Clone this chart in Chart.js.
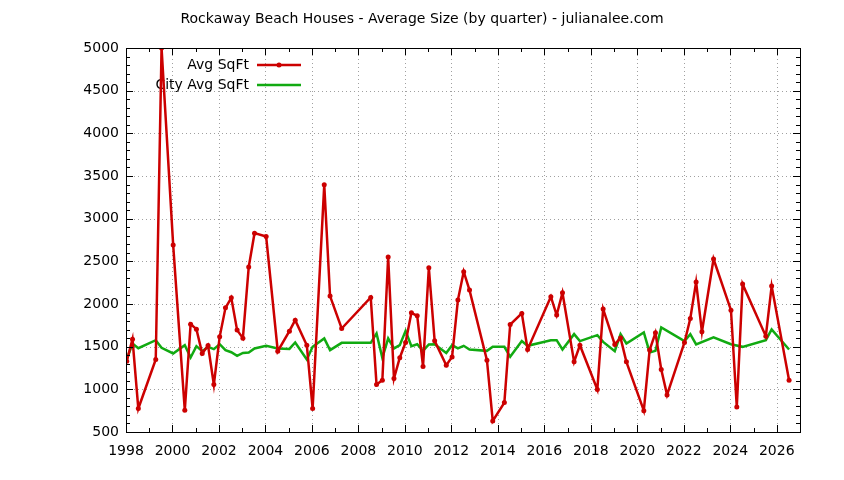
<!DOCTYPE html>
<html>
<head>
<meta charset="utf-8">
<script src="https://cdn.jsdelivr.net/npm/chart.js@4/dist/chart.umd.min.js"></script>
<style>
  html, body { margin: 0; padding: 0; background: #fff; }
</style>
</head>
<body>
<canvas id="chart" width="844" height="480"></canvas>
<script>
// Rockaway Beach quarterly average size (decimal year of each quarter)
const areaYears = [
  1998.03, 1998.28, 1998.53, 1999.28, 1999.53, 2000.03, 2000.53, 2000.78,
  2001.03, 2001.28, 2001.53, 2001.78, 2002.03, 2002.28, 2002.53, 2002.78,
  2003.03, 2003.28, 2003.53, 2004.03, 2004.53, 2005.03, 2005.28, 2005.78,
  2006.03, 2006.53, 2006.78, 2007.28, 2008.53, 2008.78, 2009.03, 2009.28,
  2009.53, 2009.78, 2010.03, 2010.28, 2010.53, 2010.78, 2011.03, 2011.28,
  2011.78, 2012.03, 2012.28, 2012.53, 2012.78, 2013.53, 2013.78, 2014.28,
  2014.53, 2015.03, 2015.28, 2016.28, 2016.53, 2016.78, 2017.28, 2017.53,
  2018.28, 2018.53, 2019.03, 2019.28, 2019.53, 2020.28, 2020.53, 2020.78,
  2021.03, 2021.28, 2022.03, 2022.28, 2022.53, 2022.78, 2023.28, 2024.03,
  2024.28, 2024.53, 2025.53, 2025.78, 2026.53
];
const areaSqft = [
  1330, 1588, 775, 1350, 5000, 2690, 755, 1764,
  1705, 1420, 1514, 1056, 1615, 1955, 2073, 1694,
  1600, 2433, 2830, 2790, 1447, 1682, 1811, 1517,
  775, 3396, 2093, 1713, 2077, 1056, 1107, 2550,
  1127, 1370, 1550, 1897, 1862, 1268, 2425, 1568,
  1283, 1380, 2046, 2378, 2163, 1341, 629, 845,
  1760, 1890, 1467, 2085, 1870, 2131, 1322, 1517,
  998, 1940, 1526, 1603, 1322, 750, 1460, 1662,
  1232, 935, 1549, 1831, 2257, 1674, 2527, 1928,
  793, 2233, 1623, 2210, 1107
];

// city-wide quarterly average
const cityYears = [
  1998.03, 1998.28, 1998.53, 1999.28, 1999.53, 2000.03, 2000.53, 2000.78,
  2001.03, 2001.28, 2001.53, 2001.78, 2002.03, 2002.28, 2002.53, 2002.78,
  2003.03, 2003.28, 2003.53, 2004.03, 2004.53, 2005.03, 2005.28, 2005.78,
  2006.03, 2006.53, 2006.78, 2007.28, 2008.53, 2008.78, 2009.03, 2009.28,
  2009.53, 2009.78, 2010.03, 2010.28, 2010.53, 2010.78, 2011.03, 2011.28,
  2011.78, 2012.03, 2012.28, 2012.53, 2012.78, 2013.53, 2013.78, 2014.28,
  2014.53, 2015.03, 2015.28, 2016.28, 2016.53, 2016.78, 2017.28, 2017.53,
  2018.28, 2018.53, 2019.03, 2019.28, 2019.53, 2020.28, 2020.53, 2020.78,
  2021.03, 2022.03, 2022.28, 2022.53, 2023.28, 2024.03, 2024.53, 2025.53,
  2025.78, 2026.53
];
const citySqft = [
  1350, 1537, 1482, 1576, 1486, 1420, 1518, 1373,
  1506, 1447, 1498, 1471, 1529, 1459, 1435, 1392,
  1427, 1432, 1479, 1510, 1479, 1474, 1549, 1350,
  1498, 1596, 1459, 1545, 1545, 1655, 1369, 1596,
  1479, 1518, 1685, 1506, 1529, 1451, 1526, 1529,
  1427, 1518, 1479, 1510, 1467, 1451, 1498, 1498,
  1381, 1565, 1510, 1576, 1576, 1467, 1647, 1565,
  1635, 1556, 1447, 1647, 1537, 1667, 1432, 1451,
  1725, 1565, 1647, 1526, 1608, 1529, 1498, 1576,
  1702, 1467
];

const xTicks = [1998, 2000, 2002, 2004, 2006, 2008, 2010, 2012, 2014, 2016, 2018, 2020, 2022, 2024, 2026];
const yTicks = [500, 1000, 1500, 2000, 2500, 3000, 3500, 4000, 4500, 5000];

const FONT = 'DejaVu Sans';
const RED = '#cc0000';
const GREEN = '#11aa11';

const toPoints = (xs, ys) => xs.map((x, i) => ({ x: x, y: ys[i] }));

// gnuplot-style frame: dotted grid, inward ticks on all sides, title, key
const gnuFrame = {
  id: 'gnuFrame',
  beforeDatasetsDraw(chart) {
    const { ctx, chartArea: a, scales: { x, y } } = chart;
    ctx.save();
    ctx.strokeStyle = '#a0a0a0';
    ctx.lineWidth = 1;
    ctx.setLineDash([1, 3]);
    xTicks.forEach(v => {
      const px = Math.round(x.getPixelForValue(v)) + 0.5;
      if (px <= a.left + 1 || px >= a.right - 1) return;
      ctx.beginPath(); ctx.moveTo(px, a.bottom); ctx.lineTo(px, a.top); ctx.stroke();
    });
    yTicks.forEach(v => {
      const py = Math.round(y.getPixelForValue(v)) + 0.5;
      if (py <= a.top + 1 || py >= a.bottom - 1) return;
      ctx.beginPath(); ctx.moveTo(a.left, py); ctx.lineTo(a.right, py); ctx.stroke();
    });
    ctx.setLineDash([]);

    // title
    ctx.fillStyle = '#000';
    ctx.font = '14px "' + FONT + '"';
    ctx.textAlign = 'center';
    ctx.textBaseline = 'middle';
    ctx.fillText('Rockaway Beach Houses - Average Size (by quarter) - julianalee.com', 422, 19);

    // key
    const keys = [['Avg SqFt', RED, true], ['City Avg SqFt', GREEN, false]];
    ctx.textAlign = 'right';
    keys.forEach((k, i) => {
      const ky = 65 + i * 20;
      ctx.fillStyle = '#000';
      ctx.fillText(k[0], 249, ky);
      ctx.strokeStyle = k[1];
      ctx.lineWidth = 2.5;
      ctx.beginPath(); ctx.moveTo(257, ky); ctx.lineTo(301, ky); ctx.stroke();
      if (k[2]) {
        ctx.fillStyle = k[1];
        ctx.beginPath(); ctx.arc(279, ky, 2.5, 0, Math.PI * 2); ctx.fill();
      }
    });
    ctx.restore();
  },
  afterDatasetsDraw(chart) {
    const { ctx, chartArea: a, scales: { x, y } } = chart;
    ctx.save();
    ctx.strokeStyle = '#000';
    ctx.lineWidth = 1;
    ctx.beginPath();
    for (let yr = 1999; yr <= 2026; yr++) {
      const px = Math.round(x.getPixelForValue(yr)) + 0.5;
      const len = yr % 2 === 0 ? 7 : 4;
      ctx.moveTo(px, a.bottom); ctx.lineTo(px, a.bottom - len);
      ctx.moveTo(px, a.top); ctx.lineTo(px, a.top + len);
    }
    for (let v = 600; v < 5000; v += 100) {
      const py = Math.round(y.getPixelForValue(v)) + 0.5;
      const len = v % 500 === 0 ? 7 : 4;
      ctx.moveTo(a.left, py); ctx.lineTo(a.left + len, py);
      ctx.moveTo(a.right, py); ctx.lineTo(a.right - len, py);
    }
    ctx.stroke();
    ctx.strokeRect(Math.round(a.left) + 0.5, Math.round(a.top) + 0.5,
      Math.round(a.right - a.left), Math.round(a.bottom - a.top));
    ctx.restore();
  }
};

new Chart(document.getElementById('chart'), {
  type: 'line',
  data: {
    datasets: [{
      label: 'Avg SqFt',
      data: toPoints(areaYears, areaSqft),
      borderColor: RED,
      backgroundColor: RED,
      borderWidth: 2.5,
      pointRadius: 2.5,
      pointHoverRadius: 2.5,
      pointBorderWidth: 0,
      tension: 0
    }, {
      label: 'City Avg SqFt',
      data: toPoints(cityYears, citySqft),
      borderColor: GREEN,
      backgroundColor: GREEN,
      borderWidth: 2.5,
      pointRadius: 0,
      tension: 0
    }]
  },
  options: {
    responsive: false,
    animation: false,
    events: [],
    layout: { padding: { top: 48, right: 44, left: 0, bottom: 0 } },
    plugins: { legend: { display: false }, title: { display: false }, tooltip: { enabled: false } },
    scales: {
      x: {
        type: 'linear',
        min: 1998,
        max: 2027,
        afterBuildTicks: s => { s.ticks = xTicks.map(v => ({ value: v })); },
        afterFit: s => { s.height = 48; },
        grid: { display: false, drawTicks: false },
        border: { display: false },
        ticks: {
          color: '#000',
          padding: 11,
          maxRotation: 0,
          autoSkip: false,
          font: { family: FONT, size: 14 },
          callback: v => String(v)
        }
      },
      y: {
        min: 500,
        max: 5000,
        afterBuildTicks: s => { s.ticks = yTicks.map(v => ({ value: v })); },
        afterFit: s => { s.width = 126; },
        grid: { display: false, drawTicks: false },
        border: { display: false },
        ticks: {
          color: '#000',
          padding: 7,
          font: { family: FONT, size: 14 },
          callback: v => String(v)
        }
      }
    }
  },
  plugins: [gnuFrame]
});
</script>
</body>
</html>
